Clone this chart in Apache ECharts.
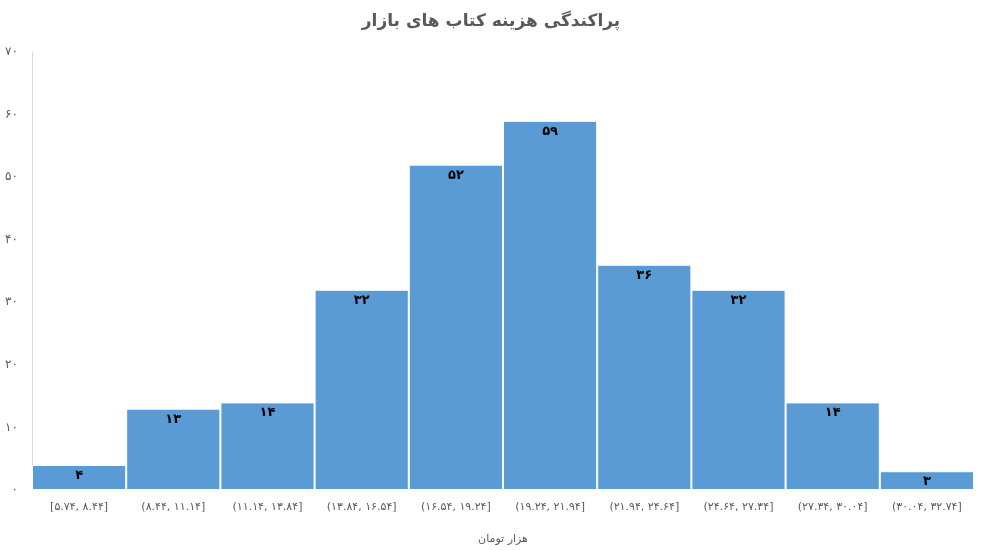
<!DOCTYPE html>
<html><head><meta charset="utf-8">
<script src="https://cdn.jsdelivr.net/npm/echarts@6/dist/echarts.min.js"></script>
<style>html,body{margin:0;padding:0;background:#fff}#c{width:982px;height:550px}</style>
</head><body><div id="c"></div>
<script>
const categories = ['[۵.۷۴, ۸.۴۴]','(۸.۴۴, ۱۱.۱۴]','(۱۱.۱۴, ۱۳.۸۴]','(۱۳.۸۴, ۱۶.۵۴]','(۱۶.۵۴, ۱۹.۲۴]','(۱۹.۲۴, ۲۱.۹۴]','(۲۱.۹۴, ۲۴.۶۴]','(۲۴.۶۴, ۲۷.۳۴]','(۲۷.۳۴, ۳۰.۰۴]','(۳۰.۰۴, ۳۲.۷۴]'];
const counts = [4, 13, 14, 32, 52, 59, 36, 32, 14, 3];
const title = 'پراکندگی هزینه کتاب های بازار';
const xName = 'هزار تومان';
const fa = n => String(n).replace(/\d/g, d => '۰۱۲۳۴۵۶۷۸۹'[d]);
const F = 'DejaVu Sans';
const chart = echarts.init(document.getElementById('c'));
chart.setOption({
  animation: false,
  title: { text: title, left: 'center', top: 8, textStyle: { fontFamily: F, fontSize: 17, fontWeight: 'bold', color: '#595959' } },
  grid: { left: 32, right: 8, top: 52, bottom: 58 },
  xAxis: { type: 'category', data: categories, name: xName, nameLocation: 'middle', nameGap: 44,
    nameTextStyle: { fontFamily: F, fontSize: 11, color: '#595959' },
    axisLine: { show: false }, axisTick: { show: false },
    axisLabel: { fontFamily: F, fontSize: 11, color: '#595959', margin: 12, interval: 0 } },
  yAxis: { type: 'value', min: 0, max: 70, interval: 10,
    axisLine: { show: true, lineStyle: { color: '#d9d9d9' } }, splitLine: { show: false },
    axisLabel: { fontFamily: F, fontSize: 12, color: '#595959', margin: 14, formatter: v => fa(v) } },
  series: [{ type: 'bar', data: counts, barCategoryGap: '0%',
    itemStyle: { color: '#5B9BD5', borderColor: '#fff', borderWidth: 1 },
    label: { show: true, position: 'insideTop', distance: 4, fontFamily: F, fontWeight: 'bold', fontSize: 13, color: '#000', formatter: p => fa(p.value) } }]
});
</script></body></html>
